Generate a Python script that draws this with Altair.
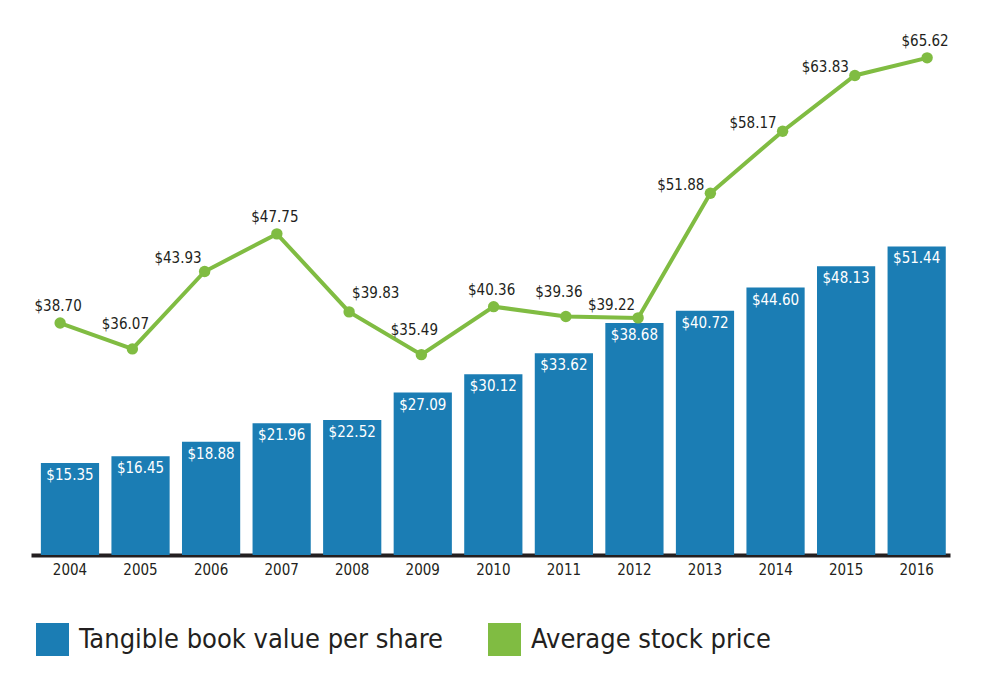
import altair as alt
import pandas as pd

years = ["2004", "2005", "2006", "2007", "2008", "2009", "2010",
         "2011", "2012", "2013", "2014", "2015", "2016"]
book_value = [15.35, 16.45, 18.88, 21.96, 22.52, 27.09, 30.12,
              33.62, 38.68, 40.72, 44.60, 48.13, 51.44]
stock_price = [38.70, 36.07, 43.93, 47.75, 39.83, 35.49, 40.36,
               39.36, 39.22, 51.88, 58.17, 63.83, 65.62]
series_names = ["Tangible book value per share", "Average stock price"]

BLUE = "#1b7db4"
GREEN = "#80bc42"
DARK = "#231f20"
FONT = "DejaVu Sans Condensed"

df = pd.DataFrame({"year": years, "book": book_value, "price": stock_price})
df["book_label"] = df["book"].map(lambda v: f"${v:.2f}")
df["price_label"] = df["price"].map(lambda v: f"${v:.2f}")

base = alt.Chart(df)

band_scale = alt.Scale(paddingInner=0.175, paddingOuter=0.1, align=0.7)
x_band = alt.X("year:O", title=None, scale=band_scale,
               axis=alt.Axis(labelAngle=0, ticks=False, domainColor=DARK,
                             domainWidth=4, labelColor=DARK, labelFontSize=15,
                             labelFont=FONT, labelPadding=7))
y_bar = alt.Y("book:Q", title=None, axis=None,
              scale=alt.Scale(domain=[0, 89.2], nice=False, zero=True))

bars = base.mark_bar(color=BLUE).encode(
    x=x_band,
    y=y_bar,
    color=alt.Color("series:N",
                    scale=alt.Scale(domain=series_names, range=[BLUE, GREEN]),
                    legend=alt.Legend(title=None, orient="none", direction="horizontal",
                                      legendX=5, legendY=603, symbolType="square",
                                      symbolSize=1089, symbolStrokeWidth=0,
                                      labelFontSize=27, labelFont=FONT,
                                      labelColor=DARK, labelOffset=10,
                                      columnPadding=45, labelLimit=600)),
).transform_calculate(series="'Tangible book value per share'")

bar_text = base.mark_text(color="white", fontSize=15, font=FONT,
                          baseline="top", dy=5).encode(
    x=alt.X("year:O", scale=band_scale),
    y=y_bar,
    text="book_label:N",
)

bar_layer = alt.layer(bars, bar_text)

x_pt = alt.X("year:O", title=None, axis=None,
             scale=alt.Scale(type="point", padding=0.36, align=0.56))
y_line = alt.Y("price:Q", title=None, axis=None,
               scale=alt.Scale(domain=[15.15, 69.46], nice=False, zero=False))

line = base.mark_line(color=GREEN, strokeWidth=4).encode(x=x_pt, y=y_line)
pts = base.mark_point(color=GREEN, filled=True, opacity=1, size=130).encode(x=x_pt, y=y_line)


def labels(sel_years, **style):
    return base.mark_text(color=DARK, fontSize=15, font=FONT,
                          baseline="alphabetic", **style).encode(
        x=x_pt, y=y_line, text="price_label:N"
    ).transform_filter(alt.FieldOneOfPredicate(field="year", oneOf=sel_years))


lbl_a = labels(["2004", "2007", "2010", "2016"], dx=-2, dy=-12)
lbl_b = labels(["2005", "2009", "2011"], dx=-7, dy=-20)
lbl_c = labels(["2006", "2012"], align="right", dx=-3, dy=-8)
lbl_d = labels(["2013", "2014", "2015"], align="right", dx=-6, dy=-3)
lbl_e = labels(["2008"], align="left", dx=3, dy=-14)

line_layer = alt.layer(line, pts, lbl_a, lbl_b, lbl_c, lbl_d, lbl_e)

chart = alt.layer(bar_layer, line_layer).resolve_scale(
    x="independent", y="independent"
).properties(
    width=919, height=535,
    padding={"left": 23, "top": 12, "right": 5, "bottom": 5},
).configure(font=FONT).configure_view(stroke=None, strokeWidth=0)

chart.save("out.html", embed_options={"renderer": "svg", "actions": False})
